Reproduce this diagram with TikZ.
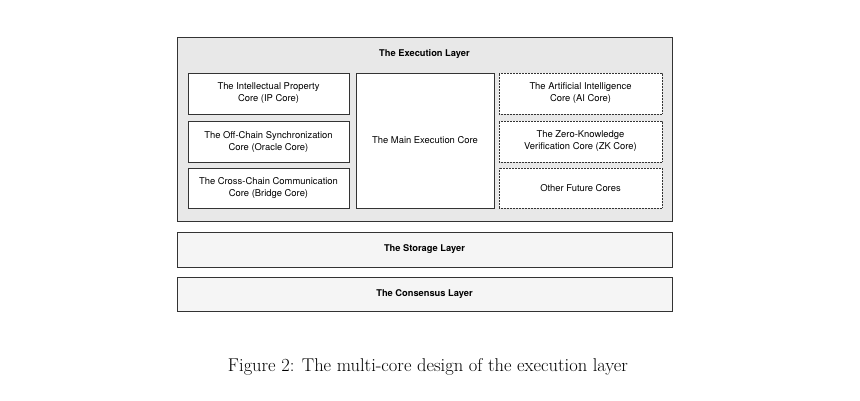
\documentclass[tikz,border=0pt]{standalone}
\usepackage{fontspec}
\setsansfont{TeX Gyre Heros}
\begin{document}
\begin{tikzpicture}[x=1pt,y=-1pt,
  layer/.style={draw=black!80,line width=0.8pt,fill=black!4,inner sep=0pt},
  core/.style={draw=black!80,line width=0.6pt,fill=white,inner sep=0pt,align=center,font=\sffamily\fontsize{9.4}{12}\selectfont},
  future/.style={core,dash pattern=on 0.6pt off 0.9pt,line width=0.6pt},
  ttl/.style={font=\sffamily\bfseries\fontsize{9.3}{11}\selectfont}]
\useasboundingbox (0,0) rectangle (860,400);
\fill[white] (0,0) rectangle (860,400);
\node[layer,fill=black!9,minimum width=495pt,minimum height=184pt] (exec) at (424.5,129.5) {};
\node[ttl] (exect) at (424.5,54) {The Execution Layer};
\node[core,minimum width=161pt,minimum height=41pt] (ip) at (268.5,93.5) {The Intellectual Property\\Core (IP Core)};
\node[core,minimum width=161pt,minimum height=41pt] (or) at (268.5,141.5) {The Off-Chain Synchronization\\Core (Oracle Core)};
\node[core,minimum width=161pt,minimum height=40pt] (br) at (268.5,188) {The Cross-Chain Communication\\Core (Bridge Core)};
\node[core,minimum width=138pt,minimum height=135pt] (main) at (425,140.5) {The Main Execution Core};
\node[future,minimum width=163pt,minimum height=41pt] (ai) at (580.5,93.5) {The Artificial Intelligence\\Core (AI Core)};
\node[future,minimum width=163pt,minimum height=41pt] (zk) at (580.5,141.5) {The Zero-Knowledge\\Verification Core (ZK Core)};
\node[future,minimum width=163pt,minimum height=40pt] (oth) at (580.5,188) {Other Future Cores};
\node[layer,minimum width=495pt,minimum height=35pt] (st) at (424.5,249.5) {};
\node[ttl] (stt) at (st) {The Storage Layer};
\node[layer,minimum width=495pt,minimum height=34pt] (co) at (424.5,294) {};
\node[ttl] (cot) at (co) {The Consensus Layer};
\node[font=\fontsize{18.5}{20}\selectfont] (cap) at (428,367) {Figure 2: The multi-core design of the execution layer};
\end{tikzpicture}
\end{document}
